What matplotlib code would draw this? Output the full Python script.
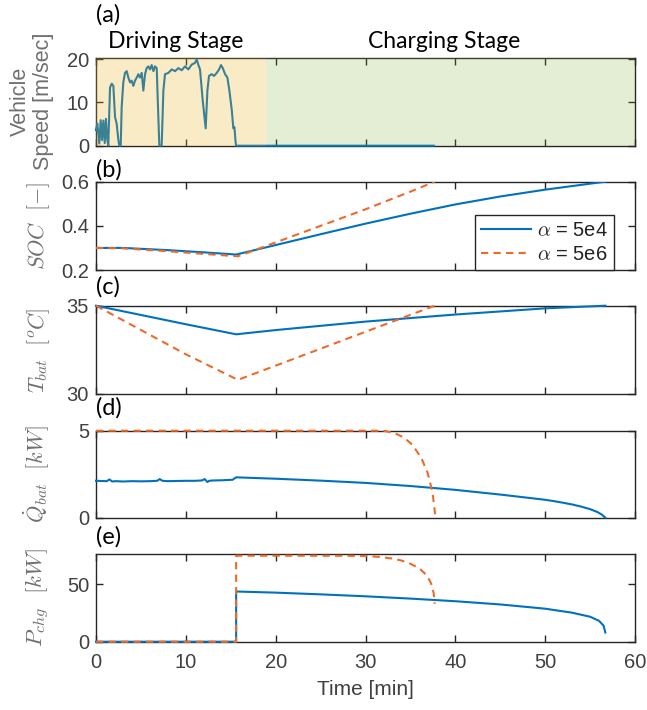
#!/usr/bin/env python3
"""Driving + charging stage traces for two alpha weights (5 stacked panels)."""

import matplotlib

matplotlib.use("Agg")
import matplotlib.pyplot as plt

BLUE = "#0072BD"
ORANGE = "#EE6A2A"
YELLOW = "#EDB120"
GREEN = "#77AC30"
AX_COLOR = "#262626"
TICK_COLOR = "#404040"
LABEL_COLOR = "#707070"

T_DRIVE_END = 18.9  # end of shaded driving stage [min]

# vehicle speed during driving [min], [m/s]
speed_t = [0.0, 0.15, 0.37, 0.52, 0.67, 0.82, 0.97, 1.11, 1.26, 1.37, 1.56, 1.75,
           1.93, 2.12, 2.30, 2.49, 2.60, 2.75, 2.86, 3.04, 3.23, 3.42, 3.60, 3.79,
           3.97, 4.16, 4.34, 4.53, 4.71, 4.90, 5.09, 5.27, 5.46, 5.64, 5.83, 6.01,
           6.20, 6.39, 6.57, 6.76, 6.90, 7.05, 7.31, 7.50, 7.68, 8.06, 8.43, 8.80,
           9.17, 9.54, 9.91, 10.28, 10.65, 11.02, 11.21, 11.40, 11.58, 11.88,
           12.21, 12.40, 12.58, 12.88, 13.14, 13.44, 13.70, 13.92, 14.11, 14.37,
           14.63, 14.85, 15.11, 15.29, 15.41, 15.52, 15.59, 37.6]
speed_v = [3.6, 5.1, 0.5, 5.9, 1.3, 5.8, 0.6, 6.2, 1.3, 0.0, 13.4, 14.3,
           13.8, 6.6, 5.1, 1.3, 0.0, 0.0, 9.0, 14.6, 16.8, 17.2, 15.7, 14.6,
           15.0, 13.8, 15.0, 15.7, 16.5, 15.7, 16.8, 12.7, 16.5, 17.9, 18.3, 17.6,
           18.6, 17.2, 18.3, 17.9, 9.0, 0.0, 0.0, 12.7, 16.5, 16.8, 17.6, 17.2,
           17.9, 17.4, 18.3, 17.6, 18.7, 19.1, 19.9, 18.6, 17.6, 10.4,
           4.0, 12.7, 16.1, 16.5, 16.1, 16.8, 17.6, 18.6, 17.9, 16.5,
           15.7, 12.7, 8.3, 4.0, 4.3, 1.3, 0.0, 0.0]

# state of charge
soc1_t = [0, 3, 8, 12, 15.6, 20, 25, 30, 35, 40, 45, 50, 55, 56.7]
soc1_v = [0.30, 0.30, 0.29, 0.28, 0.27, 0.313, 0.362, 0.41, 0.455, 0.497, 0.533,
          0.564, 0.591, 0.60]
soc2_t = [0, 3, 8, 12, 15.8, 20, 25, 30, 35, 37.7]
soc2_v = [0.30, 0.298, 0.285, 0.273, 0.262, 0.325, 0.40, 0.475, 0.555, 0.60]

# battery temperature
tb1_t = [0, 10, 15.6, 20, 30, 40, 50, 56.7]
tb1_v = [35.0, 33.95, 33.38, 33.62, 34.1, 34.5, 34.85, 35.0]
tb2_t = [0, 10, 15.8, 37.7]
tb2_v = [35.0, 32.25, 30.8, 35.0]

# battery cooling power
qb1_t = [0, 1.2, 1.5, 1.8, 2.2, 3, 4, 5, 6, 6.8, 7.1, 7.4, 8, 9, 10, 11, 11.8,
         12.1, 12.4, 12.6, 13, 14, 15.2, 15.6, 20, 25, 30, 35, 40, 45, 50, 51,
         52, 53, 54, 55, 55.8, 56.3, 56.7]
qb1_v = [2.12, 2.1, 2.2, 2.08, 2.1, 2.08, 2.1, 2.09, 2.1, 2.12, 2.22, 2.12, 2.1,
         2.11, 2.12, 2.12, 2.14, 2.22, 2.05, 2.12, 2.14, 2.15, 2.18, 2.32, 2.24,
         2.13, 2.0, 1.82, 1.6, 1.33, 1.03, 0.95, 0.86, 0.76, 0.64, 0.49, 0.33,
         0.18, 0.0]
qb2_t = [0, 32.0, 33.3, 34.3, 35.2, 36.2, 36.9, 37.45, 37.75]
qb2_v = [5.0, 5.0, 4.85, 4.6, 4.2, 3.45, 2.6, 1.5, 0.2]

# charging power
pc1_t = [0, 15.6, 15.6, 20, 25, 30, 35, 40, 45, 50, 53, 55, 56, 56.5, 56.7]
pc1_v = [0, 0, 43.8, 42.8, 41.3, 39.6, 37.6, 35.3, 32.5, 28.8, 25.3, 21.8, 18.2,
         14.0, 8.0]
pc2_t = [0, 15.6, 15.6, 20, 25, 30, 31.5, 33, 34, 35, 36, 36.8, 37.3, 37.6, 37.7]
pc2_v = [0, 0, 75, 75, 75, 74.8, 74.0, 72.5, 70.8, 68.0, 64.0, 58.0, 51.0, 42.0,
         33.0]

plt.rcParams["font.family"] = ["Liberation Sans", "DejaVu Sans"]
plt.rcParams["mathtext.fontset"] = "cm"

W, H = 647, 710
fig = plt.figure(figsize=(W / 100, H / 100), dpi=100)

# axes top/bottom in pixels (top of figure = 0)
boxes = [(57.7, 145.7), (181.7, 270.0), (305.7, 394.0), (430.7, 517.7), (554.0, 641.7)]
left, right = 96, 635
axes = []
for top, bot in boxes:
    ax = fig.add_axes([left / W, 1 - bot / H, (right - left) / W, (bot - top) / H])
    axes.append(ax)

for i, ax in enumerate(axes):
    ax.set_xlim(0, 60)
    ax.set_xticks(range(0, 61, 10))
    ax.tick_params(direction="in", top=True, right=True, length=5, width=1,
                   color=AX_COLOR, labelcolor=TICK_COLOR, labelsize=14.5)
    ax.tick_params(axis="x", pad=8)
    ax.tick_params(axis="y", pad=5)
    for sp in ax.spines.values():
        sp.set_color(AX_COLOR)
        sp.set_linewidth(1.0)
    if i < 4:
        ax.tick_params(labelbottom=False)

lw = 1.5
dash = (0, (3.5, 2.5))

# (a) speed
ax = axes[0]
ax.plot(speed_t, speed_v, color=BLUE, lw=lw, zorder=3, clip_on=False)
ax.axvspan(0, T_DRIVE_END, color=YELLOW, alpha=0.25, lw=0, zorder=5)
ax.axvspan(T_DRIVE_END, 60, color=GREEN, alpha=0.2, lw=0, zorder=5)
ax.set_ylim(0, 20.3)
ax.set_yticks([0, 10, 20])
ax.set_ylabel("Vehicle\nSpeed [m/sec]", color=LABEL_COLOR, fontsize=15.5,
              linespacing=1.1)
ax.yaxis.set_label_coords(-0.078, 0.5)

# (b) SOC
ax = axes[1]
ax.plot(soc1_t, soc1_v, color=BLUE, lw=lw, zorder=3, label=r"$\alpha$ = 5e4")
ax.plot(soc2_t, soc2_v, color=ORANGE, lw=lw, ls=dash, zorder=3,
        label=r"$\alpha$ = 5e6")
ax.set_ylim(0.2, 0.6)
ax.set_yticks([0.2, 0.4, 0.6])
ax.set_ylabel(r"$SOC\ \ [-]$", color=LABEL_COLOR, fontsize=16)
leg = ax.legend(loc="lower right", bbox_to_anchor=(0.961, 0.0), borderaxespad=0,
                fontsize=14.5, handlelength=2.5, fancybox=False, framealpha=1,
                edgecolor=AX_COLOR, borderpad=0.3, labelspacing=0.25,
                handletextpad=0.3)
leg.get_frame().set_linewidth(1.0)
for t in leg.get_texts():
    t.set_color("#222222")

# (c) battery temperature
ax = axes[2]
ax.plot(tb1_t, tb1_v, color=BLUE, lw=lw, zorder=3, clip_on=False)
ax.plot(tb2_t, tb2_v, color=ORANGE, lw=lw, ls=dash, zorder=3, clip_on=False)
ax.set_ylim(30, 35)
ax.set_yticks([30, 35])
ax.set_ylabel(r"$T_{bat}\ \ [^oC]$", color=LABEL_COLOR, fontsize=16)

# (d) battery cooling
ax = axes[3]
ax.plot(qb1_t, qb1_v, color=BLUE, lw=lw, zorder=3, clip_on=False)
ax.plot(qb2_t, qb2_v, color=ORANGE, lw=lw, ls=dash, zorder=3, clip_on=False)
ax.set_ylim(0, 5)
ax.set_yticks([0, 5])
ax.set_ylabel(r"$\dot{Q}_{bat}\ \ [kW]$", color=LABEL_COLOR, fontsize=16)

# (e) charging power
ax = axes[4]
ax.plot(pc1_t, pc1_v, color=BLUE, lw=lw, zorder=3, clip_on=False)
ax.plot(pc2_t, pc2_v, color=ORANGE, lw=lw, ls=dash, zorder=3, clip_on=False)
ax.set_ylim(0, 76.5)
ax.set_yticks([0, 50])
ax.set_ylabel(r"$P_{chg}\ \ [kW]$", color=LABEL_COLOR, fontsize=16.5)
ax.set_xlabel("Time [min]", color=TICK_COLOR, fontsize=15, labelpad=6)

for ax in axes[1:]:
    ax.yaxis.set_label_coords(-0.082, 0.5)

# panel tags and stage titles
tag_y = [15, 170, 287, 408, 537]
for tag, y in zip("abcde", tag_y):
    fig.text(left / W, 1 - y / H, f"({tag})", fontsize=17, family=["Lato"],
             ha="left", va="center", color="black")
fig.text(176 / W, 1 - 42 / H, "Driving Stage", fontsize=16.5, family=["Lato"],
         ha="center", va="center")
fig.text(444 / W, 1 - 42 / H, "Charging Stage", fontsize=16.5, family=["Lato"],
         ha="center", va="center")

fig.savefig("out.png", dpi=100)
